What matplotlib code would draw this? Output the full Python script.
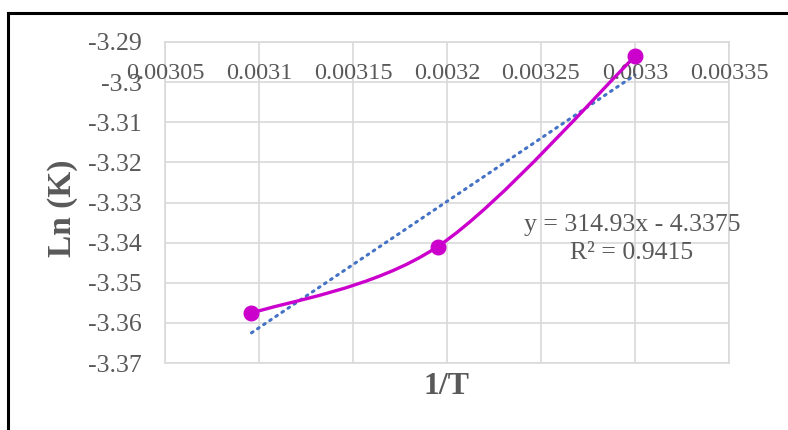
import numpy as np
import matplotlib
matplotlib.use("Agg")
import matplotlib.pyplot as plt
from matplotlib.path import Path
from matplotlib.patches import PathPatch

# data
inv_T = [0.003096, 0.003195, 0.0033]
ln_K = [-3.3576, -3.3410, -3.2936]
x_ticks = [0.00305, 0.0031, 0.00315, 0.0032, 0.00325, 0.0033, 0.00335]
x_tick_labels = ["0.00305", "0.0031", "0.00315", "0.0032", "0.00325", "0.0033", "0.00335"]
y_ticks = [-3.29, -3.3, -3.31, -3.32, -3.33, -3.34, -3.35, -3.36, -3.37]
y_tick_labels = ["-3.29", "-3.3", "-3.31", "-3.32", "-3.33", "-3.34", "-3.35", "-3.36", "-3.37"]
slope, intercept, r2 = 314.93, -4.3375, 0.9415

plt.rcParams.update({
    "font.family": "Liberation Serif",
    "text.color": "#595959",
})

W, H = 788, 430
fig = plt.figure(figsize=(W / 100, H / 100), dpi=100)
ax = fig.add_axes([165 / W, 1 - 363 / H, (729 - 165) / W, (363 - 42) / H])

# outer chart frame (only top and left visible in the crop)
fig.add_artist(plt.Line2D([8 / W, 1.0], [1 - 13 / H] * 2, color="black", lw=2.2,
                          transform=fig.transFigure))
fig.add_artist(plt.Line2D([8 / W] * 2, [0.0, 1 - 13 / H], color="black", lw=2.2,
                          transform=fig.transFigure))

ax.set_xlim(0.00305, 0.00335)
ax.set_ylim(-3.37, -3.29)
ax.set_xticks(x_ticks)
ax.set_yticks(y_ticks)
ax.set_xticklabels([])
ax.set_yticklabels(y_tick_labels, fontsize=18.5, color="#595959")
ax.tick_params(length=0, pad=17)
ax.grid(True, color="#d9d9d9", lw=1.2)
ax.set_axisbelow(True)
for s in ax.spines.values():
    s.set_color("#d9d9d9")
    s.set_linewidth(1.2)

# horizontal axis crosses at -3.3, labels sit on it
for xv, lab in zip(x_ticks, x_tick_labels):
    ax.annotate(lab, (xv, -3.3), xytext=(0, 6.5), textcoords="offset points",
                ha="center", va="center", fontsize=17.5, color="#595959")

# smoothed line (Excel style cubic bezier through points)
pts = np.column_stack([inv_T, ln_K])
verts = [pts[0]]
codes = [Path.MOVETO]
n = len(pts)
for i in range(n - 1):
    p0 = pts[max(i - 1, 0)]
    p1 = pts[i]
    p2 = pts[i + 1]
    p3 = pts[min(i + 2, n - 1)]
    c1 = p1 + (p2 - p0) / 6
    c2 = p2 - (p3 - p1) / 6
    verts += [c1, c2, p2]
    codes += [Path.CURVE4] * 3
ax.add_patch(PathPatch(Path(verts, codes), fill=False, edgecolor="#CC00CC", lw=2.4,
                       capstyle="round", zorder=3))
ax.plot(inv_T, ln_K, "o", color="#CC00CC", markersize=10.5, zorder=4)

# linear trendline
tx = np.array([min(inv_T), max(inv_T)])
ax.plot(tx, slope * tx + intercept, color="#4472C4", lw=2.2, linestyle=(0, (0.6, 1.8)),
        dash_capstyle="round", zorder=2)

ax.text(0.0032984, -3.3356, "y = 314.93x - 4.3375", ha="center", va="center",
        fontsize=18.5, color="#595959")
ax.text(0.0032984, -3.3426, "R² = 0.9415", ha="center", va="center",
        fontsize=18.5, color="#595959")

fig.text(447 / W, 1 - 386 / H, "1/T", ha="center", va="center", fontsize=23,
         fontweight="bold", color="#595959")
fig.text(62 / W, 1 - 208 / H, "Ln (K)", ha="center", va="center", fontsize=24,
         fontweight="bold", color="#595959", rotation=90)

fig.savefig("out.png", dpi=100)
